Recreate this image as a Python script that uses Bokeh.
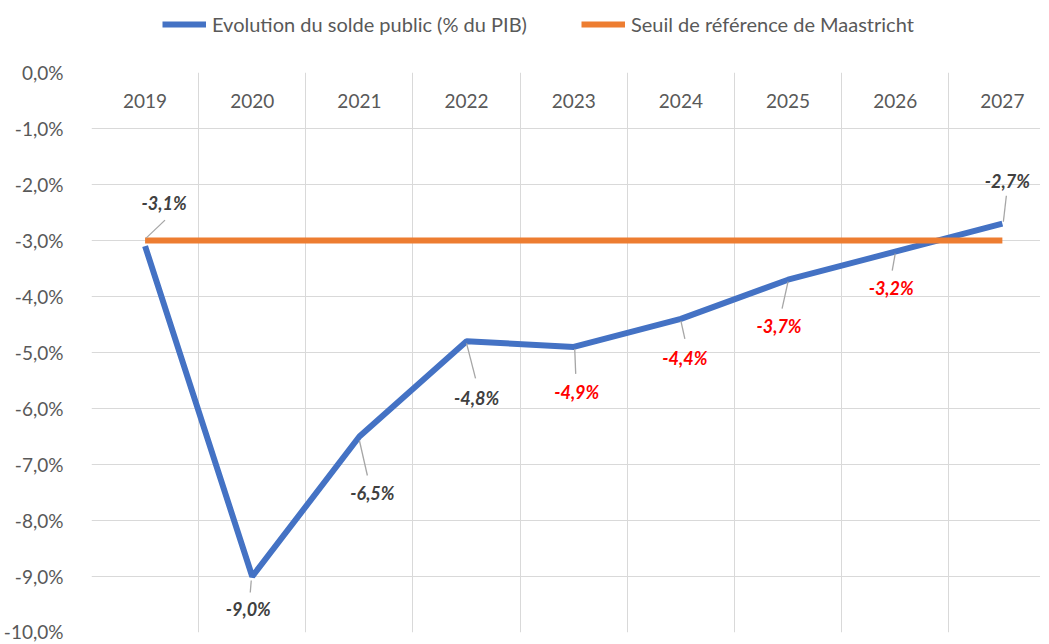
from bokeh.plotting import figure
from bokeh.layouts import column
from bokeh.models import (ColumnDataSource, Range1d, FixedTicker, Legend, LegendItem)
from bokeh.core.properties import value
from bokeh.embed import file_html
from bokeh.resources import INLINE

# ---- data ----
years = ["2019", "2020", "2021", "2022", "2023", "2024", "2025", "2026", "2027"]
solde = [-3.1, -9.0, -6.5, -4.8, -4.9, -4.4, -3.7, -3.2, -2.7]
seuil = [-3.0, -3.0, -3.0, -3.0, -3.0, -3.0, -3.0, -3.0, -3.0]
y_ticks = [0, -1, -2, -3, -4, -5, -6, -7, -8, -9, -10]
y_tick_labels = ["0,0%", "-1,0%", "-2,0%", "-3,0%", "-4,0%", "-5,0%",
                 "-6,0%", "-7,0%", "-8,0%", "-9,0%", "-10,0%"]
series_names = ["Evolution du solde public (% du PIB)", "Seuil de référence de Maastricht"]

# ---- styles / label placement (screen px) ----
label_colors = ["#404040", "#404040", "#404040", "#404040",
                "#FF0000", "#FF0000", "#FF0000", "#FF0000", "#404040"]
label_dx = [19, -4, 13, 10, 3, 4, -9, -4, 5]
label_dy = [-43, 32, 56, 57, 45, 39, 46, 36, -43]
lead_sx = [1, -1, 0, 0, 1, 0, 0, 0, 1]
lead_sy = [-8, 4, 4, 2, 2, 2, 2, 2, -2]
lead_ex = [20, -2, 8, 9, 2, 4, -6, -3, 4]
lead_ey = [-26, 16, 39, 37, 27, 20, 29, 19, -28]

PX_X = 107.5
PX_Y = 56.0
FONT = "Lato"
GRAY = "#595959"
BLUE = "#4472C4"
ORANGE = "#ED7D31"

W = 1040
TOP_H = 60
left = 88
frame_w = W - left
frame_h = 560
xs = list(range(len(years)))
x_end = -0.5 + frame_w / PX_X

# ---------- legend strip ----------
top = figure(width=W, height=TOP_H, output_backend="svg", toolbar_location=None,
             x_range=Range1d(0, W), y_range=Range1d(0, TOP_H),
             min_border_left=0, min_border_right=0, min_border_top=0,
             min_border_bottom=0)
top.axis.visible = False
top.grid.visible = False
top.outline_line_color = None
rb = top.line(x=[-100, -90], y=[-100, -100], line_color=BLUE, line_width=6)
ro = top.line(x=[-100, -90], y=[-100, -100], line_color=ORANGE, line_width=6)
legend = Legend(items=[LegendItem(label=series_names[0], renderers=[rb]),
                       LegendItem(label=series_names[1], renderers=[ro])],
                orientation="horizontal", location=(71, 24))
legend.label_text_font = FONT
legend.label_text_font_size = "20px"
legend.label_text_color = GRAY
legend.glyph_width = 44
legend.glyph_height = 20
legend.label_standoff = 6
legend.spacing = 54
legend.padding = 0
legend.margin = 0
legend.border_line_color = None
legend.background_fill_alpha = 0
top.add_layout(legend)

# ---------- main chart ----------
p = figure(width=W, height=582, output_backend="svg", toolbar_location=None,
           x_range=Range1d(-0.5, x_end), y_range=Range1d(-10, 0),
           min_border_left=left, min_border_right=0, min_border_top=12,
           min_border_bottom=10)
p.outline_line_color = None
p.background_fill_color = "white"
p.border_fill_color = "white"

p.xaxis.visible = False
p.yaxis.ticker = FixedTicker(ticks=y_ticks)
p.yaxis.major_label_overrides = {t: l for t, l in zip(y_ticks, y_tick_labels)}
p.yaxis.axis_line_color = None
p.yaxis.major_tick_line_color = None
p.yaxis.minor_tick_line_color = None
p.yaxis.major_label_text_font = FONT
p.yaxis.major_label_text_font_size = "19px"
p.yaxis.major_label_text_color = GRAY
p.yaxis.major_label_standoff = 22

p.ygrid.ticker = FixedTicker(ticks=y_ticks)
p.ygrid.grid_line_color = "#d9d9d9"
p.xgrid.ticker = FixedTicker(ticks=[i - 0.5 for i in range(len(years) + 1)])
p.xgrid.grid_line_color = "#d9d9d9"

# year labels inside the plot
p.text(x=xs, y=[-0.5] * len(years), text=years, text_font=value(FONT),
       text_font_size="19px", text_color=GRAY, text_align="center",
       text_baseline="middle")

r_blue = p.line(xs, solde, line_color=BLUE, line_width=6)
r_orange = p.line(xs, seuil, line_color=ORANGE, line_width=6)

# leader lines
x0 = [x + sx / PX_X for x, sx in zip(xs, lead_sx)]
y0 = [v - sy / PX_Y for v, sy in zip(solde, lead_sy)]
x1 = [x + ex / PX_X for x, ex in zip(xs, lead_ex)]
y1 = [v - ey / PX_Y for v, ey in zip(solde, lead_ey)]
p.segment(x0=x0, y0=y0, x1=x1, y1=y1, line_color="#a6a6a6", line_width=1.3)

labels = [f"{v:.1f}%".replace(".", ",") for v in solde]
src = ColumnDataSource(dict(x=xs, y=solde, text=labels, color=label_colors,
                            dx=label_dx, dy=label_dy))
p.text(x="x", y="y", text="text", x_offset="dx", y_offset="dy", source=src,
       text_color="color", text_font=value(FONT), text_font_size="18px",
       text_font_style="bold italic", text_align="center", text_baseline="middle")

layout = column(top, p, spacing=0)
open("out.html", "w").write(file_html(layout, INLINE))
